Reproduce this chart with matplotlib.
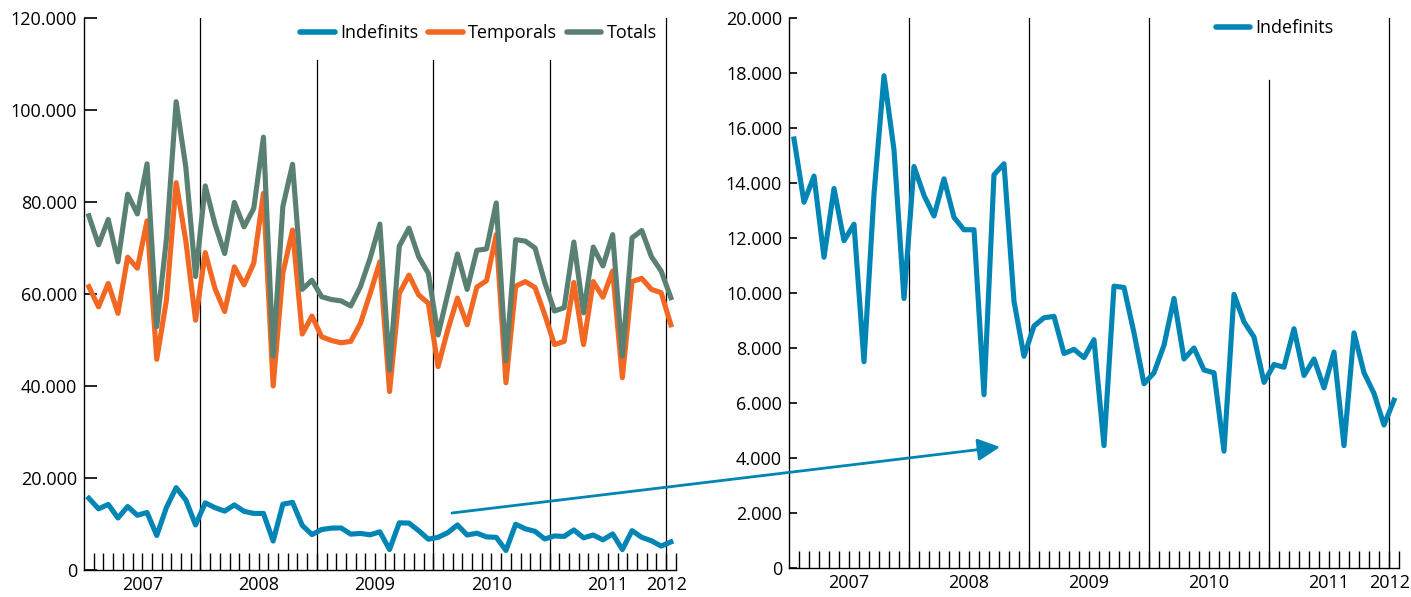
import numpy as np
import matplotlib
matplotlib.use("Agg")
import matplotlib.pyplot as plt
from matplotlib.patches import FancyArrowPatch
from matplotlib.ticker import FuncFormatter
from matplotlib.transforms import offset_copy

plt.rcParams['font.family'] = ['Open Sans', 'DejaVu Sans']

years = ["2007", "2008", "2009", "2010", "2011", "2012"]

indefinits = [15.6, 13.3, 14.25, 11.3, 13.8, 11.9, 12.5, 7.5, 13.6, 17.9, 15.2, 9.8,
              14.6, 13.55, 12.8, 14.15, 12.75, 12.3, 12.3, 6.3, 14.3, 14.7, 9.7, 7.7,
              8.8, 9.1, 9.15, 7.8, 7.95, 7.65, 8.3, 4.45, 10.25, 10.2, 8.55, 6.7,
              7.1, 8.1, 9.8, 7.6, 8.0, 7.2, 7.1, 4.25, 9.95, 8.95, 8.4, 6.75,
              7.4, 7.3, 8.7, 7.0, 7.6, 6.55, 7.85, 4.45, 8.55, 7.1, 6.35, 5.2,
              6.1]
temporals = [61.6, 57.2, 62.3, 55.8, 68.0, 65.6, 75.9, 45.8, 58.7, 84.2, 71.5, 54.3,
             69.0, 61.2, 56.2, 65.9, 62.0, 66.7, 81.9, 40.0, 64.5, 73.9, 51.3, 55.2,
             50.7, 49.9, 49.4, 49.7, 53.6, 60.1, 67.0, 38.8, 60.1, 64.1, 59.8, 58.0,
             44.2, 52.2, 59.1, 53.3, 61.5, 62.9, 72.9, 40.7, 61.7, 62.7, 61.4, 55.5,
             49.0, 49.7, 62.5, 49.0, 62.7, 59.3, 65.0, 41.8, 62.7, 63.4, 61.0, 60.3,
             53.3]
totals = [77.0, 70.7, 76.2, 67.0, 81.7, 77.4, 88.3, 52.9, 72.0, 101.8, 87.5, 63.8,
          83.5, 75.2, 68.8, 79.9, 74.6, 78.6, 94.1, 46.5, 79.0, 88.2, 61.0, 63.0,
          59.4, 58.8, 58.5, 57.4, 61.6, 67.8, 75.2, 43.5, 70.4, 74.3, 68.1, 64.5,
          51.1, 60.0, 68.7, 61.0, 69.5, 69.8, 79.8, 45.5, 71.8, 71.5, 70.0, 62.5,
          56.3, 57.0, 71.3, 55.9, 70.2, 66.1, 72.9, 46.5, 72.2, 73.8, 68.1, 65.0,
          59.2]

ind = np.array(indefinits) * 1000
tem = np.array(temporals) * 1000
tot = np.array(totals) * 1000
n = len(ind)
xs = np.arange(n) + 0.5

C_IND = "#0085b5"
C_TEM = "#f26722"
C_TOT = "#5a8072"
LW = 3.7
FS = 13

W, H = 1411, 597
fig = plt.figure(figsize=(W / 100, H / 100), dpi=100)

def ax_rect(x0, x1, y0, y1):
    return [x0 / W, 1 - y1 / H, (x1 - x0) / W, (y1 - y0) / H]

axL = fig.add_axes(ax_rect(84, 675.7, 18, 570))
axR = fig.add_axes(ax_rect(789, 1399, 18, 568))

fmt = FuncFormatter(lambda v, p: f"{v:,.0f}".replace(",", "."))

def style(ax, ymax, ystep, sep_tops, ytl):
    ax.set_xlim(0, n)
    ax.set_ylim(0, ymax)
    for s in ["top", "right"]:
        ax.spines[s].set_visible(False)
    for s in ["left", "bottom"]:
        ax.spines[s].set_linewidth(1.0)
        ax.spines[s].set_color("black")
    ax.set_yticks(np.arange(0, ymax + 1, ystep))
    ax.yaxis.set_major_formatter(fmt)
    ax.tick_params(axis="y", direction="in", length=ytl, width=1.2, pad=5,
                   labelsize=FS, colors="black")
    ax.set_xticks(np.arange(1, n + 1))
    ax.set_xticklabels([])
    ax.tick_params(axis="x", direction="in", length=12, width=1.0, colors="black")
    for k, top in zip(range(12, n, 12), sep_tops):
        ax.axvline(k, ymin=0, ymax=top, color="black", lw=0.9, zorder=1)
    tr = offset_copy(ax.get_xaxis_transform(), fig=fig, x=0, y=-15, units="dots")
    for j, yr in enumerate(years):
        xc = j * 12 + 6 if j < 5 else 60.1
        ax.text(xc, 0, yr, transform=tr, ha="center", va="center", fontsize=FS)

style(axL, 120000, 20000, [1.0, 0.924, 0.924, 0.924, 1.0], 9)
style(axR, 20000, 2000, [1.0, 1.0, 1.0, 0.887, 1.0], 6)

axL.plot(xs, ind, color=C_IND, lw=LW, label="Indefinits", zorder=3)
axL.plot(xs, tem, color=C_TEM, lw=LW, label="Temporals", zorder=3)
axL.plot(xs, tot, color=C_TOT, lw=LW, label="Totals", zorder=3)
axR.plot(xs, ind, color=C_IND, lw=LW, label="Indefinits", zorder=3)

legL = axL.legend(loc="center right", bbox_to_anchor=(0.968, 0.973), ncol=3,
                  frameon=False, handlelength=1.9, handletextpad=0.3,
                  columnspacing=0.55, fontsize=FS, borderaxespad=0, borderpad=0)
legR = axR.legend(loc="center right", bbox_to_anchor=(0.893, 0.982), ncol=1,
                  frameon=False, handlelength=1.9, handletextpad=0.3,
                  fontsize=FS, borderaxespad=0, borderpad=0)
for leg in (legL, legR):
    for h in leg.get_lines():
        h.set_solid_capstyle("round")
        h.set_linewidth(4)

arrow = FancyArrowPatch((452 / W, 1 - 513 / H), (1000 / W, 1 - 447 / H),
                        transform=fig.transFigure, arrowstyle="-|>",
                        mutation_scale=34, color=C_IND, lw=2.0,
                        shrinkA=0, shrinkB=0)
fig.add_artist(arrow)

fig.savefig("out.png", dpi=100)
